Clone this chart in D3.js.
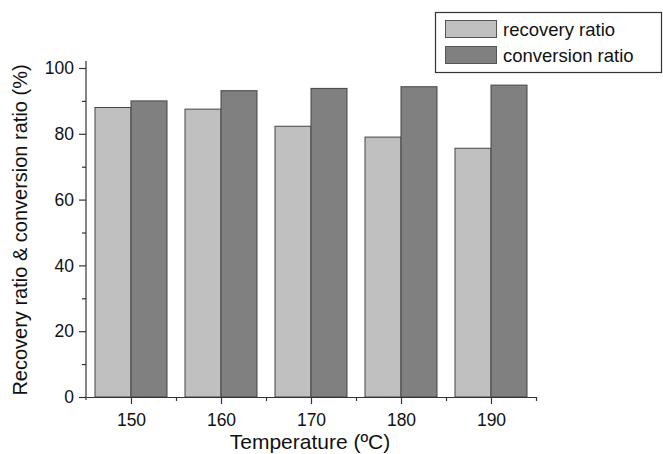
<!DOCTYPE html>
<html>
<head>
<meta charset="utf-8">
<script src="https://cdn.jsdelivr.net/npm/d3@7"></script>
<style>
body { margin: 0; background: #fff; }
text { font-family: "Liberation Sans", Arial, sans-serif; fill: #111; }
</style>
</head>
<body>
<div id="chart-area"></div>
<script>
// data
var temps = [150, 160, 170, 180, 190];
var recovery = [88.0, 87.5, 82.3, 79.0, 75.6];
var conversion = [90.0, 93.1, 93.8, 94.3, 94.8];
var yTicks = [0, 20, 40, 60, 80, 100];
var seriesNames = ["recovery ratio", "conversion ratio"];

var width = 663, height = 454;
var colors = ["#c0c0c0", "#808080"];

var svg = d3.select("#chart-area").append("svg")
	.attr("width", width).attr("height", height);

var x = d3.scaleLinear().domain([145, 195]).range([86, 536]);
var y = d3.scaleLinear().domain([0, 100]).range([397, 68]);

// bars
var barW = 4; // in temperature units
var g = svg.append("g");
temps.forEach(function(t, i) {
	g.append("rect")
		.attr("x", x(t - barW)).attr("y", y(recovery[i]))
		.attr("width", x(t) - x(t - barW)).attr("height", y(0) - y(recovery[i]))
		.attr("fill", colors[0]).attr("stroke", "#444").attr("stroke-width", 1);
	g.append("rect")
		.attr("x", x(t)).attr("y", y(conversion[i]))
		.attr("width", x(t + barW) - x(t)).attr("height", y(0) - y(conversion[i]))
		.attr("fill", colors[1]).attr("stroke", "#444").attr("stroke-width", 1);
});

// y axis
var yAxis = d3.axisLeft(y).tickValues(yTicks).tickSize(7).tickSizeOuter(0).tickPadding(5);
var yMinor = d3.axisLeft(y).tickValues([10, 30, 50, 70, 90]).tickSize(4).tickFormat("").tickSizeOuter(0);
var ya = svg.append("g").attr("transform", "translate(86,0)").call(yAxis);
svg.append("g").attr("transform", "translate(86,0)").call(yMinor).select(".domain").remove();
ya.select(".domain").attr("d", "M0,61V400");

// x axis
var xAxis = d3.axisBottom(x).tickValues(temps).tickSize(7).tickSizeOuter(0).tickPadding(10);
var xMinor = d3.axisBottom(x).tickValues([155, 165, 175, 185, 195]).tickSize(4).tickFormat("").tickSizeOuter(0);
svg.append("g").attr("transform", "translate(0,397)").call(xAxis);
svg.append("g").attr("transform", "translate(0,397)").call(xMinor).select(".domain").remove();

svg.selectAll(".tick text").style("font-size", "17.5px").attr("fill", "#111");
svg.selectAll(".domain, .tick line").attr("stroke", "#333").attr("stroke-width", 1.2);

// axis labels
svg.append("text")
	.attr("text-anchor", "middle")
	.attr("transform", "translate(27,230) rotate(-90)")
	.style("font-size", "20px")
	.text("Recovery ratio & conversion ratio (%)");
svg.append("text")
	.attr("text-anchor", "middle")
	.attr("x", 310).attr("y", 449)
	.style("font-size", "21px")
	.text("Temperature (ºC)");

// legend
var leg = svg.append("g");
leg.append("rect").attr("x", 435.5).attr("y", 12.5).attr("width", 226).attr("height", 60)
	.attr("fill", "#fff").attr("stroke", "#333").attr("stroke-width", 1.2);
seriesNames.forEach(function(name, i) {
	leg.append("rect").attr("x", 445.5).attr("y", 20.5 + i * 26).attr("width", 51).attr("height", 17)
		.attr("fill", colors[i]).attr("stroke", "#555");
	leg.append("text").attr("x", 503).attr("y", 35.5 + i * 26)
		.style("font-size", "18.5px").text(name);
});
</script>
</body>
</html>
